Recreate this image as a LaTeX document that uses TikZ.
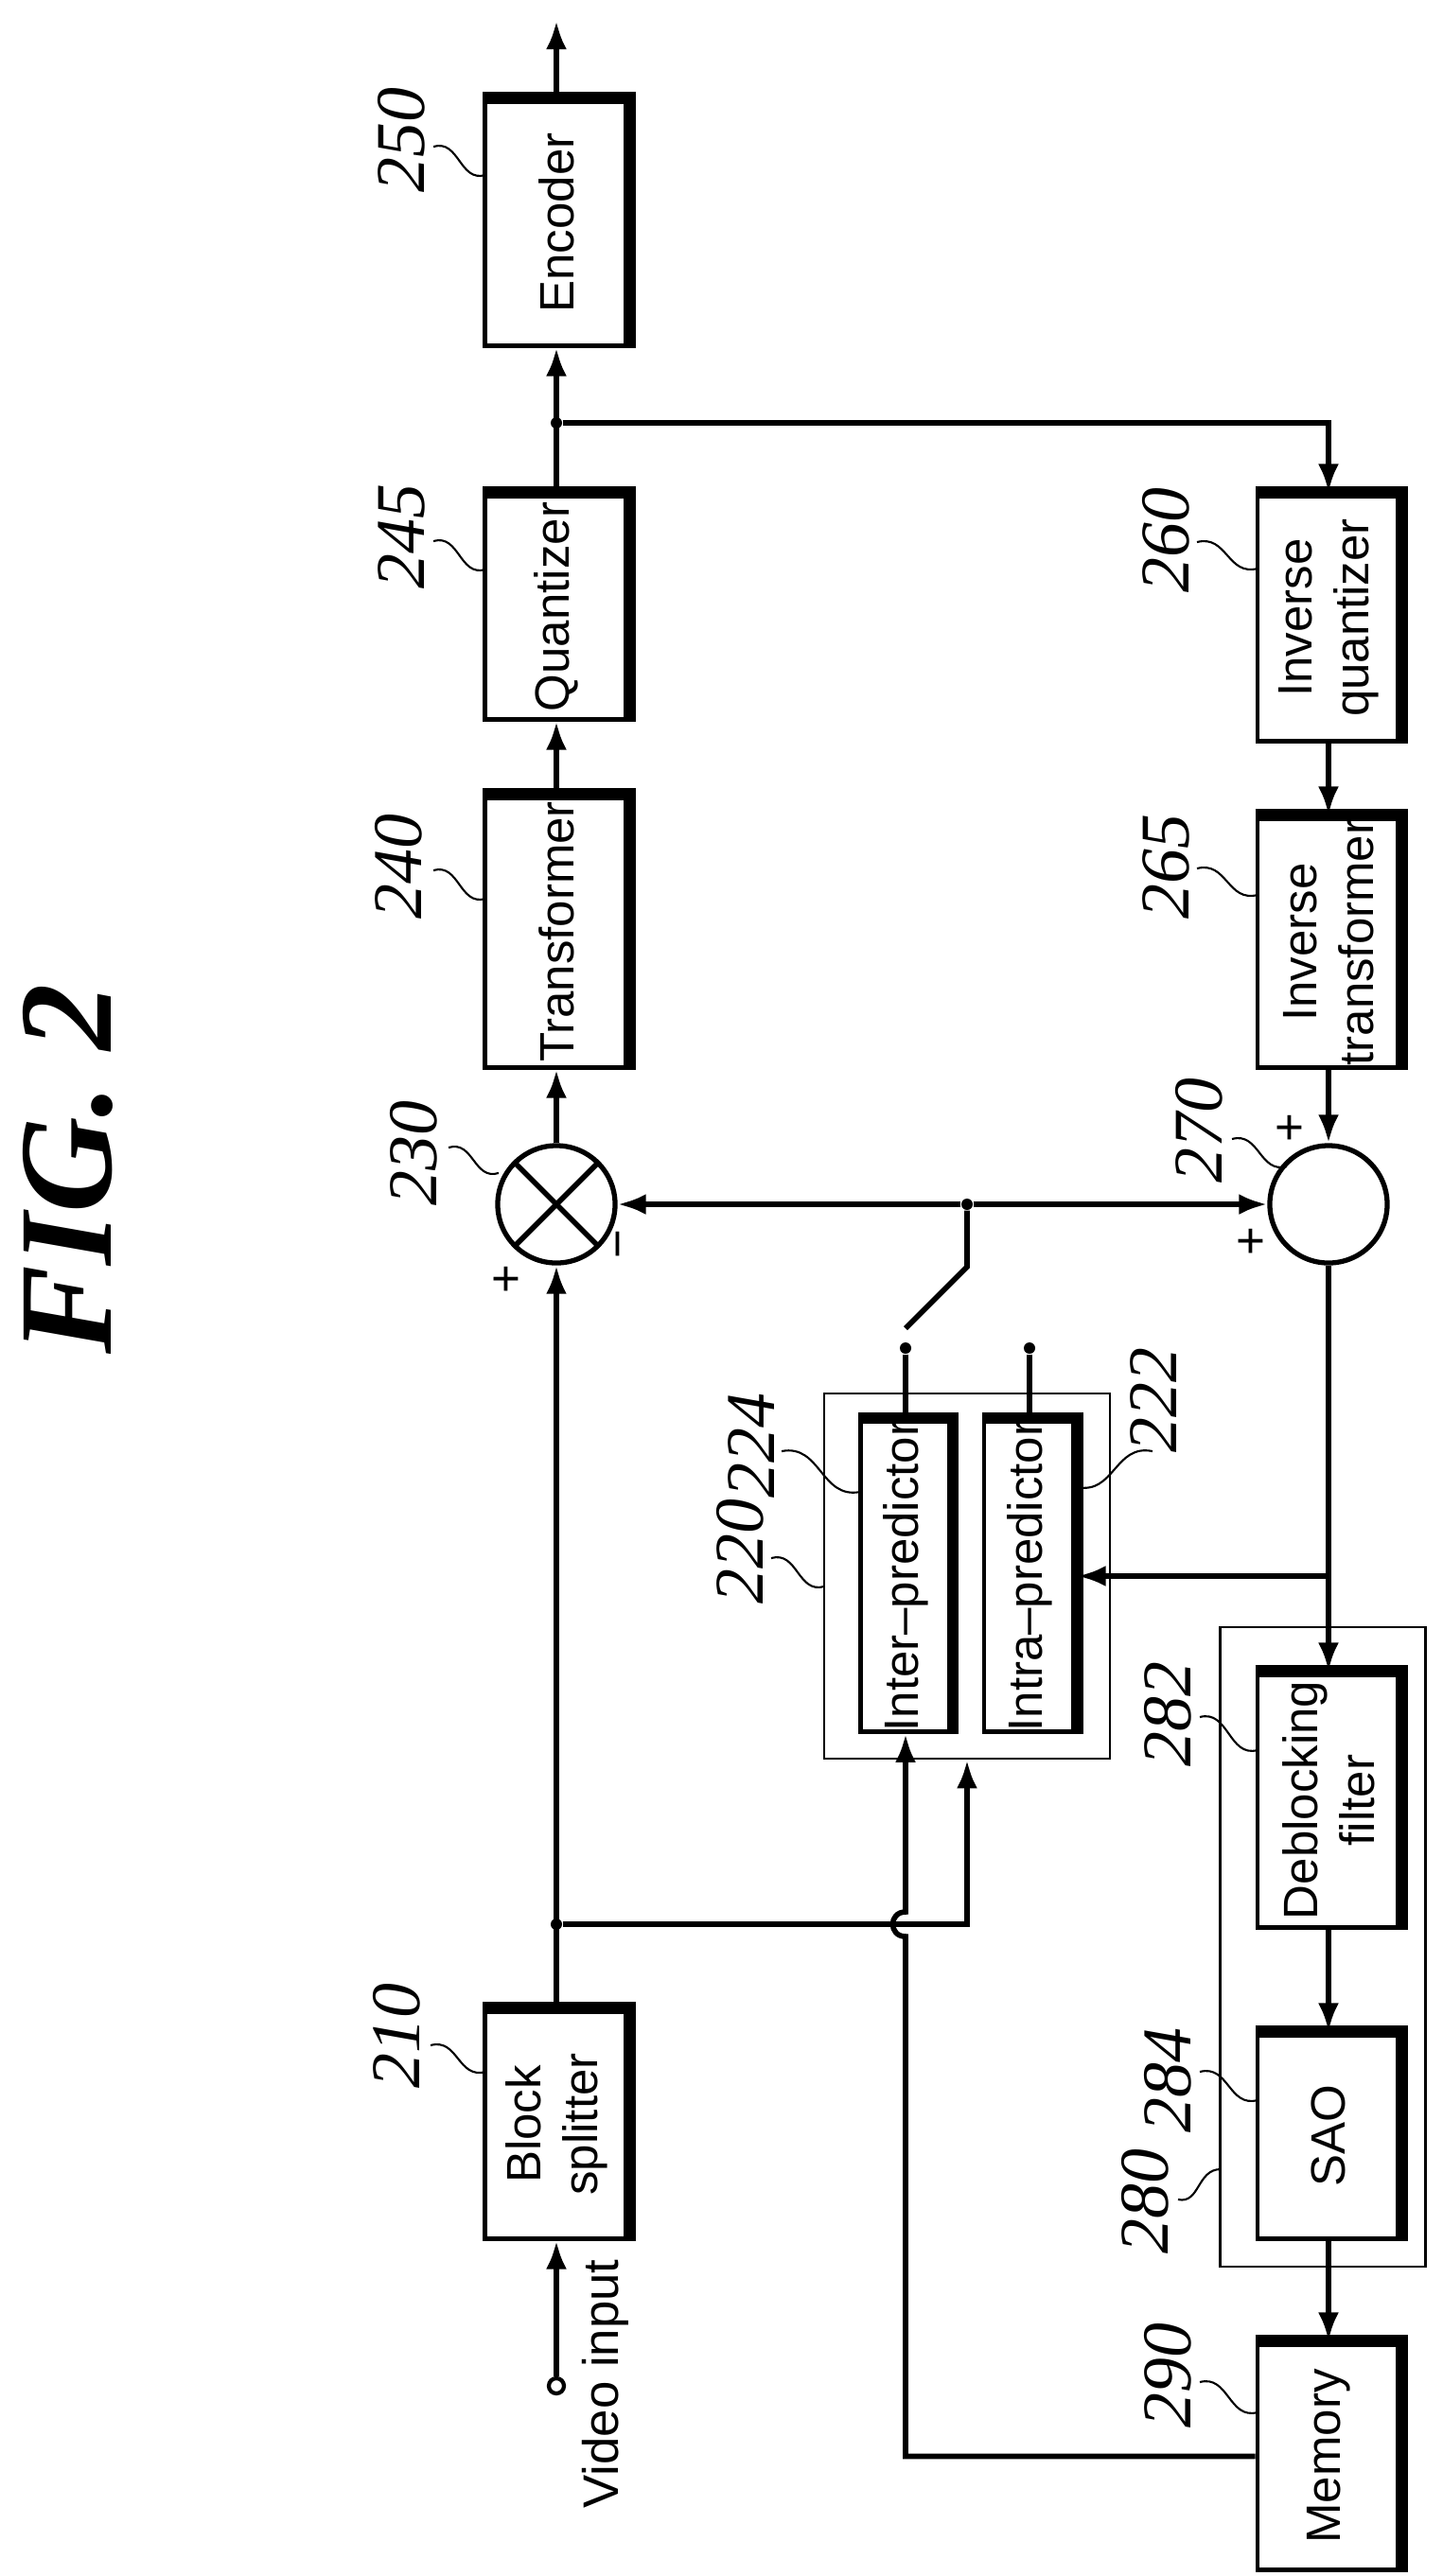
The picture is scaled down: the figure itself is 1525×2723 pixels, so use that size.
\documentclass[tikz,border=0pt]{standalone}
\usepackage{fontspec}
\setmainfont{Liberation Serif}
\setsansfont{Liberation Sans}
\usetikzlibrary{arrows.meta}
\begin{document}
\begin{tikzpicture}[x=0.01cm,y=-0.01cm,
  ln/.style={line width=1.6pt},
  arr/.style={ln,-{Latex[length=0.3cm,width=0.22cm]}},
  box/.style={draw,line width=1.4pt,rotate=90,inner sep=0pt,align=center,
     font=\sffamily\fontsize{14.5}{17}\selectfont,minimum height=1.50cm},
  grp/.style={draw,line width=0.7pt,inner sep=0pt},
  sum/.style={draw,circle,line width=1.5pt,minimum size=1.24cm,inner sep=0pt},
  dot/.style={circle,fill,inner sep=0pt,minimum size=0.12cm},
  lab/.style={rotate=90,font=\itshape\fontsize{21}{21}\selectfont,inner sep=0pt},
  sg/.style={rotate=90,font=\sffamily\fontsize{15}{15}\selectfont,inner sep=0pt},
  ld/.style={line width=0.6pt}]
\useasboundingbox (0,0) rectangle (1525,2723);
\newcommand{\shd}[1]{\draw[line width=3.5pt] (#1.north east)--(#1.south east)--(#1.south west);}
% title
\node[rotate=90,font=\bfseries\itshape\fontsize{40}{40}\selectfont] (title) at (72,1236) {FIG. 2};
% boxes
\node[box,minimum width=2.59cm] (enc) at (588,235.5) {Encoder};
\node[box,minimum width=2.37cm] (quant) at (588,641.5) {Quantizer};
\node[box,minimum width=2.86cm] (trans) at (588,985) {Transformer};
\node[box,minimum width=2.41cm] (split) at (588,2245.5) {Block\\splitter};
\node[box,minimum width=2.60cm] (iq) at (1404,653) {Inverse\\quantizer};
\node[box,minimum width=2.64cm] (it) at (1404,996) {Inverse\\transformer};
\node[box,minimum width=2.68cm] (deb) at (1404,1903) {Deblocking\\filter};
\node[box,minimum width=2.16cm] (sao) at (1404,2258) {SAO};
\node[box,minimum width=2.39cm] (mem) at (1404,2596.5) {Memory};
\node[box,minimum width=3.26cm,minimum height=0.95cm] (inter) at (957,1666) {Inter--predictor};
\node[box,minimum width=3.26cm,minimum height=0.96cm] (intra) at (1088,1666) {Intra--predictor};
\foreach \b in {enc,quant,trans,split,iq,it,deb,sao,mem,inter,intra} {\shd{\b}}
\node[grp,minimum width=3.02cm,minimum height=3.86cm] (g220) at (1022,1666) {};
\node[grp,minimum width=2.17cm,minimum height=6.76cm] (g280) at (1398,2058) {};
\node[sum] (c230) at (588,1273) {};
\draw[ln] (c230.north west)--(c230.south east) (c230.north east)--(c230.south west);
\node[sum] (c270) at (1404,1273) {};
\node[draw,circle,line width=1.2pt,minimum size=0.16cm,inner sep=0pt] (vin) at (588,2522) {};
\node[rotate=90,font=\sffamily\fontsize{15}{15}\selectfont] (vint) at (640,2520) {Video input};
% coordinates
\node[dot] (j1) at (588,447) {};
\node[dot] (sw) at (1022,1273) {};
\node[dot] (j2) at (588,2034) {};
\node[dot] (d1) at (957,1425) {};
\node[dot] (d2) at (1088,1425) {};
\coordinate (fb) at (1404,1666);
\coordinate (top) at (588,22);
\coordinate (swb) at (1022,1339);
\coordinate (swe) at (957,1404);
% connectors
\draw[arr] (vin) -- (split.west);
\draw[arr] (split.east) -- (c230.south);
\draw[arr] (c230.north) -- (trans.west);
\draw[arr] (trans.east) -- (quant.west);
\draw[arr] (quant.east) -- (enc.west);
\draw[arr] (enc.east) -- (top);
\draw[arr] (j1) -| (iq.east);
\draw[arr] (iq.west) -- (it.east);
\draw[arr] (it.west) -- (c270.north);
\draw[arr] (sw) -- (c230.east);
\draw[arr] (sw) -- (c270.west);
\draw[ln] (sw) -- (swb) -- (swe);
\draw[ln] (d1) -- (inter.east);
\draw[ln] (d2) -- (intra.east);
\draw[arr] (c270.south) -- (deb.east);
\draw[arr] (fb) -- (intra.south);
\draw[arr] (deb.west) -- (sao.east);
\draw[arr] (sao.west) -- (mem.east);
\draw[arr] (j2) -| (g220.south);
\draw[arr] (mem.north) -- (957,2596.5) -- (957,2047) .. controls (939,2047) and (939,2021) .. (957,2021) -- (inter.west);
% signs
\node[sg] at (537,1352) {+};
\node[sg] at (661,1315) {−};
\node[sg] at (1365,1192) {+};
\node[sg] at (1324,1312) {+};
% labels
\node[lab] (l250) at (424,148) {250};
\node[lab] (l245) at (424,567) {245};
\node[lab] (l240) at (421,916) {240};
\node[lab] (l230) at (437,1219) {230};
\node[lab] (l210) at (419,2152) {210};
\node[lab] (l260) at (1232,571) {260};
\node[lab] (l265) at (1232,916) {265};
\node[lab] (l270) at (1267,1195) {270};
\node[lab] (l224) at (794,1528) {224};
\node[lab] (l220) at (782,1640) {220};
\node[lab] (l222) at (1219,1480) {222};
\node[lab] (l282) at (1234,1812) {282};
\node[lab] (l284) at (1234,2199) {284};
\node[lab] (l280) at (1210,2327) {280};
\node[lab] (l290) at (1234,2511) {290};
\newcommand{\lead}[4]{\draw[ld] (#1,#2) .. controls ({#1+0.5*(#3-#1)},{#2-8}) and ({#1+0.5*(#3-#1)},{#4+8}) .. (#3,#4);}
\lead{458}{155}{513}{185}
\lead{458}{572}{513}{602}
\lead{458}{920}{513}{950}
\lead{474}{1213}{527}{1240}
\lead{455}{2162}{513}{2190}
\lead{1265}{573}{1329}{601}
\lead{1265}{918}{1329}{946}
\lead{1302}{1204}{1360}{1233}
\lead{826}{1534}{909}{1577}
\lead{815}{1647}{871}{1677}
\lead{1218}{1534}{1138}{1572}
\lead{1268}{1815}{1329}{1850}
\lead{1268}{2190}{1329}{2220}
\draw[ld] (1245,2325) .. controls (1268,2330) and (1265,2293) .. (1290,2293);
\lead{1268}{2518}{1329}{2550}
\end{tikzpicture}
\end{document}
